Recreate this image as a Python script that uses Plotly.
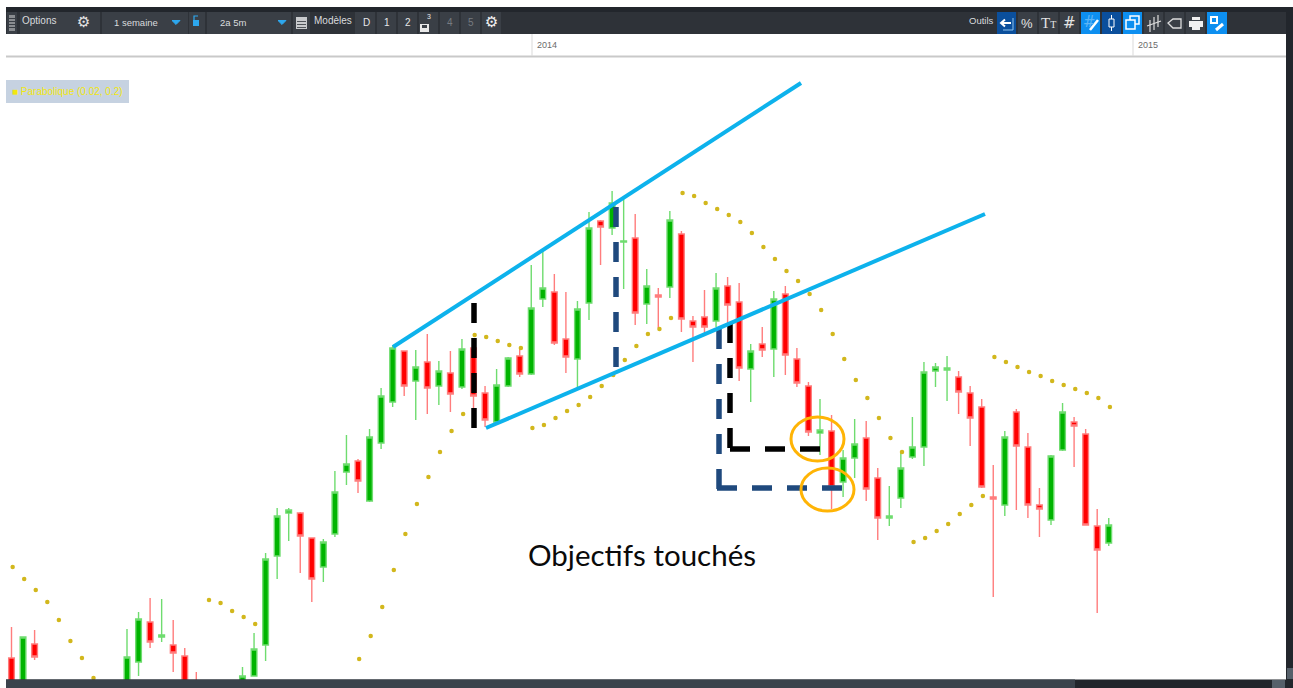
import plotly.graph_objects as go

W, H = 1293, 688
BAR0, BAR_STEP = 11.5, 11.55

direction = [
    "r","g","r", None,None,None,None,None,None,None,
    "g","g","r","g","r","r","r", None,None,None,
    "g","g","g","g","g","r","r","g","g","g",
    "r","g","g","g","r","g","r","g","r","g",
    "r","r","g","g","r","g","g","r","r","g",
    "g","r","g","g","r","g","r","g","r","r",
    "r","g","r","r","g","r","g","r","r","r",
    "g","r","g","g","r","r","g","g","g","g",
    "g","g","r","r","r","r","g","r","r","r",
    "g","g","r","r","r","g",
]
high_y = [
    627,637,630, None,None,None,None,None,None,None,
    629,612,598,599,620,648,672, None,None,None,
    667,633,553,508,508,512,538,539,471,435,
    459,429,388,345,351,350,334,361,351,339,
    347,386,369,357,348,265,251,274,292,301,
    212,220,191,199,214,269,288,211,231,316,
    290,273,277,283,344,327,291,286,348,382,
    399,415,450,419,421,468,486,452,417,362,
    363,356,371,386,399,465,431,409,433,488,
    455,403,417,429,509,518,
]
top_y = [
    658,637,644, None,None,None,None,None,None,None,
    657,619,622,635,645,656,690, None,None,None,
    676,649,559,516,510,513,538,542,492,464,
    461,437,396,348,351,367,362,371,373,349,
    348,393,385,358,356,308,288,292,339,309,
    228,221,203,241,238,286,295,220,234,321,
    317,288,286,302,351,344,299,294,359,386,
    430,431,458,444,438,478,516,468,447,372,
    367,368,377,393,407,497,437,412,447,505,
    456,412,422,434,526,525,
]
bottom_y = [
    700,700,657, None,None,None,None,None,None,None,
    700,662,642,637,653,700,720, None,None,None,
    700,676,645,556,513,536,579,567,534,472,
    481,501,443,402,386,381,388,386,394,387,
    396,420,422,386,374,374,299,343,357,359,
    303,227,228,242,313,304,297,287,319,327,
    327,321,305,368,369,350,349,355,383,432,
    433,487,482,458,489,518,518,498,457,447,
    371,370,392,418,487,499,505,446,505,509,
    520,450,426,525,550,543,
]
low_y = [
    700,700,660, None,None,None,None,None,None,None,
    700,676,648,642,672,700,720, None,None,None,
    700,676,661,579,541,573,602,582,537,485,
    493,502,449,407,396,420,414,405,412,389,
    418,427,422,387,377,375,307,345,373,387,
    320,265,235,289,325,324,328,298,332,362,
    333,327,323,381,402,357,377,375,387,436,
    455,509,497,478,501,540,526,508,459,466,
    387,401,414,446,488,597,516,510,518,537,
    525,451,467,525,613,546,
]
# Parabolic SAR dots (None = outside the view or no dot visible)
sar_y = [
    567,579,590,602,620,641,658,678, None,None,
    None,None,None,None,None,None,None,600,603,611,
    617,624, None,None,None,None,None,None,None,None,
    659,636,607,570,534,504,477,452,431,414,
    335,337,341,345,348,428,425,418,411,405,
    397,386,375,360,346,334,329,318,193,196,
    203,209,215,222,233,247,259,271,281,294,
    310,334,359,380,398,418,438,452,542,538,
    531,524,514,505,496,357,362,367,372,376,
    381,385,389,393,398,407,
]
# Drawn lines, as screen readings
channel_upper_x, channel_upper_y = [393, 801], [347, 83]
channel_lower_x, channel_lower_y = [486, 985], [428, 214]
black_v_x, black_v_y = [474, 474], [303, 428]
navy_v_x, navy_v_y = [616, 616], [207, 367]
black_l_v_x, black_l_v_y = [730, 730], [323, 448]
black_l_h_x, black_l_h_y = [730, 820], [449, 449]
navy_l_v_x, navy_l_v_y = [719, 719], [329, 489]
navy_l_h_x, navy_l_h_y = [717, 842], [488, 488]
circle_a = (791, 417, 844, 461)
circle_b = (801, 468, 854, 511)

year_labels = ["2014", "2015"]
year_x = [532, 1133]


def price(y):
    return None if y is None else H - y


def bar(x):
    return (x - BAR0) / BAR_STEP


def px(x):
    return x / W


def py(y):
    return 1 - y / H


idx = [i for i, d in enumerate(direction) if d]
opens = [price(bottom_y[i] if direction[i] == "g" else top_y[i]) for i in idx]
closes = [price(top_y[i] if direction[i] == "g" else bottom_y[i]) for i in idx]
highs = [price(high_y[i]) for i in idx]
lows = [price(low_y[i]) for i in idx]

fig = go.Figure()
fig.add_trace(go.Candlestick(
    x=idx, open=opens, high=highs, low=lows, close=closes, whiskerwidth=0,
    increasing=dict(line=dict(color="#6fdc6f", width=1.4), fillcolor="#00b400"),
    decreasing=dict(line=dict(color="#ff7d7d", width=1.4), fillcolor="#ff0000"),
    hoverinfo="skip", showlegend=False))

sar_x = [i + 0.1 for i, v in enumerate(sar_y) if v is not None]
fig.add_trace(go.Scatter(
    x=sar_x, y=[price(v) for v in sar_y if v is not None], mode="markers",
    marker=dict(size=4.5, color="#d2b71c", line=dict(width=0)),
    hoverinfo="skip", showlegend=False))


def draw(xs, ys, color, width, dash="solid"):
    fig.add_trace(go.Scatter(
        x=[bar(v) for v in xs], y=[price(v) for v in ys], mode="lines",
        line=dict(color=color, width=width, dash=dash),
        hoverinfo="skip", showlegend=False))


DASH = "20px,15px"
draw(navy_v_x, navy_v_y, "#1f497d", 5.5, DASH)
draw(navy_l_v_x, navy_l_v_y, "#1f497d", 5.5, DASH)
draw(navy_l_h_x, navy_l_h_y, "#1f497d", 5.5, DASH)
draw(black_v_x, black_v_y, "#000000", 5.5, DASH)
draw(black_l_v_x, black_l_v_y, "#000000", 5.5, DASH)
draw(black_l_h_x, black_l_h_y, "#000000", 5.5, DASH)
draw(channel_upper_x, channel_upper_y, "#0db2ec", 4)
draw(channel_lower_x, channel_lower_y, "#0db2ec", 4)

shapes, notes = [], []


def rect(x0, y0, x1, y1, fill, line=None, lw=1):
    shapes.append(dict(type="rect", xref="paper", yref="paper", x0=px(x0), x1=px(x1),
                       y0=py(y0), y1=py(y1), fillcolor=fill,
                       line=dict(color=line or fill, width=lw if line else 0)))


def path(pts, color, lw=1.5, fill=None, close=False):
    d = "M" + " L".join(f"{px(a):.5f},{py(b):.5f}" for a, b in pts) + (" Z" if close else "")
    shapes.append(dict(type="path", xref="paper", yref="paper", path=d,
                       line=dict(color=color, width=lw),
                       fillcolor=fill or "rgba(0,0,0,0)"))


def text(x, y, s, size=10, color="#d9dbde", anchor="left", family="Liberation Sans"):
    notes.append(dict(xref="paper", yref="paper", x=px(x - 2 if anchor == "left" else x),
                      y=py(y), text=s, showarrow=False,
                      xanchor=anchor, yanchor="middle",
                      font=dict(size=size, color=color, family=family)))


for c, col in ((circle_a, "#ffb405"), (circle_b, "#ffb405")):
    shapes.append(dict(type="circle", xref="paper", yref="paper", x0=px(c[0]), x1=px(c[2]),
                       y0=py(c[1]), y1=py(c[3]), line=dict(color=col, width=3)))

# Page chrome
rect(0, 0, W, 7, "#ffffff")
rect(0, 0, 6, H, "#ffffff")
rect(6, 7, 1286, 12, "#22262c")
rect(6, 12, 1286, 34, "#2e3238")
rect(6, 34, 1286, 56, "#ffffff")
rect(6, 55.5, 1286, 57.5, "#c9c9c9")
rect(6, 679.5, 1286, H, "#22262c")
rect(6, 679.5, 1075, H, "#3b434c")
rect(1286, 7, W, H, "#22262c")
rect(1287, 668, 1293, 679, "#56606a")
rect(1272, 680, 1285, H, "#56606a")

for x, lab in zip(year_x, year_labels):
    rect(x - 0.5, 34, x + 0.5, 56, "#d9d9d9")
    text(x + 5, 45, lab, size=9, color="#6b6b6b")

# Left toolbar
for a, b in ((7, 17), (20, 100), (102, 188), (189, 205), (207, 291), (293, 310),
             (355, 375), (377, 396), (398, 417), (419, 438), (440, 459), (461, 480), (482, 501)):
    rect(a, 12, b, 34, "#3a3f46")
rect(9, 15, 15, 31, "#8a8d91")
for yy in (18, 21, 24, 27):
    rect(9, yy, 15, yy + 1, "#3a3f46")
text(22, 21, "Options", color="#d9dbde")
text(83, 22, "⚙", size=15, anchor="center", family="DejaVu Sans", color="#e4e4e4")
text(114, 22.5, "1 semaine", size=9.5)
path([(172, 20.5), (180, 20.5), (176, 24.5)], "#2da7ee", 1, "#2da7ee", True)
rect(193, 20, 199, 26, "#2da7ee")
path([(194, 20), (194, 16), (198, 16)], "#2da7ee", 1.2)
text(220, 22.5, "2a 5m", size=9.5)
path([(278, 20.5), (286, 20.5), (282, 24.5)], "#2da7ee", 1, "#2da7ee", True)
rect(296, 17, 307, 29, "#c9cbce")
for yy in (21, 24, 27):
    rect(297, yy, 306, yy + 1, "#50545a")
text(314, 20, "Modèles", size=10)
for x, s, c in ((366, "D", "#e8e8e8"), (387, "1", "#e8e8e8"), (408, "2", "#e8e8e8"),
                (450, "4", "#777b80"), (471, "5", "#777b80")):
    text(x, 22, s, size=10, anchor="center", color=c)
rect(420, 24, 429, 32, "#e8e8e8")
rect(422, 25, 427, 28, "#3a3f46")
text(429, 16.5, "3", size=7, anchor="center", color="#e8e8e8")
text(491, 22, "⚙", size=15, anchor="center", family="DejaVu Sans", color="#f2f2f2")

# Right toolbar
text(969, 20, "Outils", size=9.5)
for a, b, c in ((997, 1016, "#0b4f9c"), (1018, 1037, "#3a3f46"), (1039, 1058, "#3a3f46"),
                (1060, 1079, "#3a3f46"), (1081, 1100, "#0d8ff0"), (1102, 1121, "#0b4f9c"),
                (1123, 1142, "#0d8ff0"), (1144, 1163, "#3a3f46"), (1165, 1184, "#3a3f46"),
                (1186, 1205, "#3a3f46"), (1207, 1227, "#0d8ff0")):
    rect(a, 12, b, 34, c)
path([(1001, 23), (1011, 23)], "#ffffff", 2)
path([(1005, 19.5), (1001, 23), (1005, 26.5)], "#ffffff", 2)
path([(1003, 30), (1013, 30), (1013, 18)], "#8fc4ee", 1)
text(1027, 24, "%", size=13, anchor="center", color="#e4e4e4", family="Liberation Sans")
text(1048.5, 23, "T<span style='font-size:10px'>T</span>", size=15, anchor="center",
     color="#e4e4e4", family="Liberation Serif")
text(1069.5, 23, "#", size=15, anchor="center", color="#e4e4e4", family="DejaVu Sans")
text(1089, 22, "#", size=15, anchor="center", color="#5db5f5", family="DejaVu Sans")
path([(1090, 30), (1098, 20)], "#ffffff", 2.5)
rect(1109, 19, 1114, 27, "#0b4f9c", "#ffffff", 1)
path([(1111.5, 15), (1111.5, 19)], "#ffffff", 1)
path([(1111.5, 27), (1111.5, 31)], "#ffffff", 1)
rect(1130, 16, 1139, 24, "rgba(0,0,0,0)", "#ffffff", 1.5)
rect(1126, 20, 1135, 29, "#0d8ff0", "#ffffff", 1.5)
for x, a, b in ((1150, 20, 32), (1154, 17, 30), (1158, 15, 27)):
    path([(x, a), (x, b)], "#dcdcdc", 1.2)
path([(1147, 26), (1161, 21)], "#dcdcdc", 1.2)
path([(1181, 19), (1173, 19), (1168, 23), (1173, 28), (1181, 28)], "#dcdcdc", 1.3, None, True)
rect(1192, 17, 1200, 20, "#f0f0f0")
rect(1189, 21, 1203, 27, "#f0f0f0")
rect(1192, 27, 1200, 30, "#f0f0f0")
rect(1211, 17, 1217, 23, "#0d8ff0", "#ffffff", 2)
path([(1216, 30), (1223, 24)], "#ffffff", 3)

# Indicator tag
rect(6, 80, 129, 103, "#c6d2e1")
text(12, 91.5, "■ Parabolique (0.02, 0.2)", size=10, color="#f2e70f")

text(528, 554, "Objectifs touchés", size=29.5, color="#0a0a0a", family="Lato")

fig.update_layout(
    width=W, height=H, autosize=False,
    margin=dict(l=0, r=0, t=0, b=0),
    paper_bgcolor="#ffffff", plot_bgcolor="#ffffff",
    showlegend=False, shapes=shapes, annotations=notes,
    xaxis=dict(range=[bar(0), bar(W)], visible=False, rangeslider=dict(visible=False),
               fixedrange=True),
    yaxis=dict(range=[0, H], visible=False, fixedrange=True),
)
fig.write_html("out.html", config=dict(displayModeBar=False, responsive=False),
               post_script="document.body.style.margin='0';document.body.style.overflow='hidden';")
